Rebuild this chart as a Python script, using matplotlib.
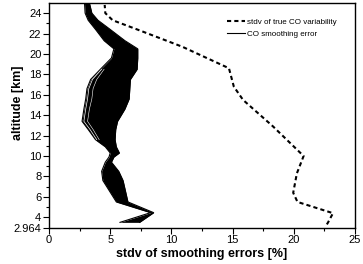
import matplotlib
matplotlib.use("Agg")
import matplotlib.pyplot as plt
import numpy as np

plt.rcParams['font.family'] = ['Liberation Sans', 'DejaVu Sans']

# True CO variability (dashed)
var_alt = [3.3, 3.5, 4.4, 5.5, 6.4, 8.3, 10.0, 12.9, 15.5, 16.8, 18.6, 20.7, 22.4, 23.3, 24.0, 24.8]
var_x   = [22.7, 22.8, 23.2, 20.3, 19.95, 20.25, 20.8, 18.3, 15.85, 15.1, 14.7, 10.9, 7.2, 5.2, 4.6, 4.55]

# Envelope of the smoothing-error profiles (solid lines)
band_alt   = [3.5, 4.45, 5.5, 7.6, 8.5, 9.4, 9.9, 10.3, 10.9, 11.6, 12.6, 13.4, 14.6, 15.6, 16.6, 17.5, 18.5, 19.6, 20.5, 21.3, 22.4, 23.3, 24.0, 25.0]
band_left  = [5.8, 8.3, 5.5, 4.4, 4.3, 4.6, 4.9, 5.0, 4.6, 3.8, 3.2, 2.7, 2.85, 3.0, 3.1, 3.4, 4.2, 5.1, 5.3, 4.5, 3.8, 3.2, 2.95, 2.9]
band_right = [7.4, 8.55, 6.45, 6.05, 5.7, 5.1, 5.3, 5.75, 5.5, 5.4, 5.45, 5.6, 6.2, 6.55, 6.6, 6.65, 7.2, 7.25, 7.25, 6.2, 5.0, 4.0, 3.5, 3.3]

# Individual outlying profiles separated from the bulk by gaps
gap_alt = [11.6, 12.6, 13.4, 14.6, 15.6, 16.6, 17.5, 18.5]
gap1_x  = [3.9, 3.35, 2.85, 3.0, 3.15, 3.25, 3.55, 4.3]
gap2_x  = [4.1, 3.6, 3.15, 3.3, 3.5, 3.6, 3.9, 4.5]

xticks = [0, 5, 10, 15, 20, 25]
yticks = [2.964, 4, 6, 8, 10, 12, 14, 16, 18, 20, 22, 24]
ytick_labels = ['2.964', '4', '6', '8', '10', '12', '14', '16', '18', '20', '22', '24']

fig = plt.figure(figsize=(3.63, 2.64), dpi=100)
ax = fig.add_axes([0.135, 0.137, 0.843, 0.852])

ax.fill_betweenx(band_alt, band_left, band_right, color='black', lw=0)
ax.plot(band_left, band_alt, color='black', lw=0.8)
ax.plot(band_right, band_alt, color='black', lw=0.8, label='CO smoothing error')
ax.plot(gap1_x, gap_alt, color='white', lw=0.5)
ax.plot(gap2_x, gap_alt, color='white', lw=0.4)

ax.plot(var_x, var_alt, color='black', lw=1.5, dashes=(2, 1.5),
        label='stdv of true CO variability')

ax.set_xlim(0, 25)
ax.set_ylim(2.964, 25)
ax.set_xticks(xticks)
ax.set_xticks([2.5, 7.5, 12.5, 17.5, 22.5], minor=True)
ax.set_yticks(yticks)
ax.set_yticklabels(ytick_labels)
ax.set_yticks([5, 7, 9, 11, 13, 15, 17, 19, 21, 23], minor=True)
ax.tick_params(which='major', direction='out', length=4, width=0.8, labelsize=8, pad=1.5)
ax.tick_params(which='minor', direction='out', length=2.5, width=0.8)
for s in ax.spines.values():
    s.set_linewidth(1.0)

ax.set_xlabel('stdv of smoothing errors [%]', fontsize=9, fontweight='bold')
ax.set_ylabel('altitude [km]', fontsize=9, fontweight='bold')
ax.xaxis.set_label_coords(0.498, -0.09)
ax.yaxis.set_label_coords(-0.082, 0.556)

h, l = ax.get_legend_handles_labels()
ax.legend(h[::-1], l[::-1], loc='upper left', bbox_to_anchor=(0.582, 0.932),
          frameon=False, fontsize=5.75, borderpad=0, borderaxespad=0,
          handlelength=2.25, handletextpad=0.3, labelspacing=0.6)

fig.savefig('out.png', dpi=100)
